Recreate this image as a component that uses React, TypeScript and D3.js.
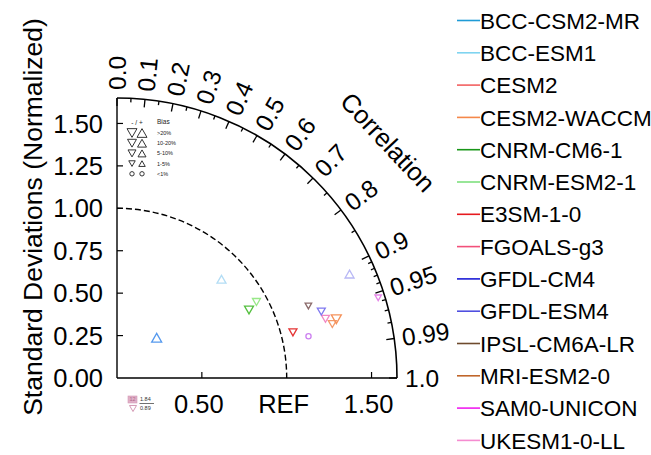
import React from 'react';
import * as d3 from 'd3';

// model list, legend colours and the (lighter) marker colours
const models = ['BCC-CSM2-MR', 'BCC-ESM1', 'CESM2', 'CESM2-WACCM', 'CNRM-CM6-1', 'CNRM-ESM2-1', 'E3SM-1-0',
	'FGOALS-g3', 'GFDL-CM4', 'GFDL-ESM4', 'IPSL-CM6A-LR', 'MRI-ESM2-0', 'SAM0-UNICON', 'UKESM1-0-LL'];
const lineColors = ['#1f9bd6', '#7fd4f0', '#f26060', '#f5884a', '#199619', '#7fe07f', '#e61a1e',
	'#f2507a', '#1c1cd6', '#4f4fe0', '#6e4b2d', '#c0662a', '#f01ff0', '#f58cd0'];
const markerColors = ['#5599ee', '#b3ddf5', '#f49a6a', '#f5925a', '#55c040', '#98e888', '#e53535',
	'#f287c4', '#b8b8f5', '#7f78f0', '#8b6b6b', '#d49ab5', '#cc7ff0', '#e585e8'];

// normalized std dev, correlation, bias (%)
const stdDev = [0.333, 0.847, 1.308, 1.338, 0.875, 0.936, 1.071, 1.277, 1.501, 1.266, 1.205, 1.84, 1.155, 1.610];
const corr = [0.702, 0.727, 0.970, 0.966, 0.889, 0.878, 0.968, 0.962, 0.913, 0.951, 0.936, 0.89, 0.977, 0.956];
const bias = [25, 15, -8, -22, -15, -8, -8, -8, 15, -8, -3, -12, 0.5, -5];

const stdTicks = [0, 0.25, 0.5, 0.75, 1.0, 1.25, 1.5];
const xTicks = [0.5, 1.0, 1.5];
const xTickLabels = ['0.50', 'REF', '1.50'];
const corrMajor = [0, 0.1, 0.2, 0.3, 0.4, 0.5, 0.6, 0.7, 0.8, 0.9, 0.95, 0.99, 1.0];
const corrLabels = ['0.0', '0.1', '0.2', '0.3', '0.4', '0.5', '0.6', '0.7', '0.8', '0.9', '0.95', '0.99', '1.0'];
const corrMinor = [0.05, 0.15, 0.25, 0.35, 0.45, 0.55, 0.65, 0.75, 0.85, 0.91, 0.92, 0.93, 0.94, 0.96, 0.97, 0.98];
const biasLabels = ['>20%', '10-20%', '5-10%', '1-5%', '<1%'];

const W = 651, H = 455;
const ox = 117, oy = 378;
const maxStd = 1.65;
const font = 'Liberation Sans, Arial, Helvetica, sans-serif';

const biasClass = (b) => {
	const a = Math.abs(b);
	if (a > 20) return 0;
	if (a > 10) return 1;
	if (a > 5) return 2;
	if (a > 1) return 3;
	return 4;
};
const triWidths = [10, 9, 8, 6.5];

const tri = (x, y, w, up) => {
	const h = w * 0.87;
	return up
		? `M${x - w / 2},${y + h / 2}L${x + w / 2},${y + h / 2}L${x},${y - h / 2}Z`
		: `M${x - w / 2},${y - h / 2}L${x + w / 2},${y - h / 2}L${x},${y + h / 2}Z`;
};

export default function App() {
	const r = d3.scaleLinear().domain([0, maxStd]).range([0, 280]);
	const R = r(maxStd);
	const pt = (s, c) => {
		const th = Math.acos(c);
		return [ox + r(s) * Math.cos(th), oy - r(s) * Math.sin(th)];
	};

	const outer = d3.path();
	outer.moveTo(ox, oy - R);
	outer.arc(ox, oy, R, -Math.PI / 2, 0);
	const ref = d3.path();
	ref.moveTo(ox, oy - r(1));
	ref.arc(ox, oy, r(1), -Math.PI / 2, 0);

	const radTick = (c, len) => {
		const th = Math.acos(c);
		return <line key={'t' + c} x1={ox + R * Math.cos(th)} y1={oy - R * Math.sin(th)}
			x2={ox + (R - len) * Math.cos(th)} y2={oy - (R - len) * Math.sin(th)} stroke="#000" strokeWidth={1.3} />;
	};

	return (
		<svg width={W} height={H} style={{ position: 'absolute', left: 0, top: 0 }} fontFamily={font}>
			<rect width={W} height={H} fill="#fff" />
			{/* axes */}
			<line x1={ox} y1={oy} x2={ox} y2={oy - R} stroke="#000" strokeWidth={1.4} />
			<line x1={ox} y1={oy} x2={ox + R} y2={oy} stroke="#000" strokeWidth={1.4} />
			<path d={outer.toString()} fill="none" stroke="#000" strokeWidth={1.6} />
			<path d={ref.toString()} fill="none" stroke="#000" strokeWidth={1.4} strokeDasharray="6,3" />

			{stdTicks.map(v => (
				<g key={'y' + v}>
					{v > 0 && <line x1={ox} x2={ox + 6} y1={oy - r(v)} y2={oy - r(v)} stroke="#000" strokeWidth={1.2} />}
					<text x={103} y={oy - r(v)} dy="0.36em" textAnchor="end" fontSize={25.5}>{v.toFixed(2)}</text>
				</g>
			))}
			{xTicks.map((v, i) => (
				<g key={'x' + v}>
					{v !== 1 && <line x1={ox + r(v)} x2={ox + r(v)} y1={oy} y2={oy - 6} stroke="#000" strokeWidth={1.2} />}
					<text x={ox + r(v) - 3} y={413} textAnchor="middle" fontSize={25.5}>{xTickLabels[i]}</text>
				</g>
			))}

			{corrMajor.map(c => radTick(c, 8))}
			{corrMinor.map(c => radTick(c, 4))}
			{corrMajor.map((c, i) => {
				const th = Math.acos(c);
				const x = ox + (R + 8) * Math.cos(th), y = oy - (R + 8) * Math.sin(th);
				return <text key={'cl' + c} x={x} y={y} dy="0.36em" fontSize={24.5}
					transform={`rotate(${-th * 180 / Math.PI},${x},${y})`}>{corrLabels[i]}</text>;
			})}
			<text x={388} y={142} dy="0.36em" textAnchor="middle" fontSize={25.5} transform="rotate(47,388,142)">Correlation</text>
			<text x={42} y={217} textAnchor="middle" fontSize={26.5} transform="rotate(-90,42,217)">Standard Deviations (Normalized)</text>

			{/* bias key */}
			<g fontSize={6.5} fill="#222">
				<text x={137} y={123} dy="0.35em" textAnchor="middle">- / +</text>
				<text x={157} y={122} dy="0.35em">Bias</text>
				{biasLabels.map((b, i) => {
					const y = 133 + i * 10.2;
					return (
						<g key={b}>
							{i < 4 ? <>
								<path d={tri(132, y, triWidths[i], false)} fill="none" stroke="#333" strokeWidth={1} />
								<path d={tri(142, y, triWidths[i], true)} fill="none" stroke="#333" strokeWidth={1} />
							</> : <>
								<circle cx={132} cy={y} r={2.2} fill="none" stroke="#333" strokeWidth={1} />
								<circle cx={142} cy={y} r={2.2} fill="none" stroke="#333" strokeWidth={1} />
							</>}
							<text x={157} y={y} dy="0.35em" fontSize={5.5}>{b}</text>
						</g>
					);
				})}
			</g>

			{/* model markers */}
			{models.map((m, i) => {
				if (stdDev[i] > maxStd) return null;
				const [x, y] = pt(stdDev[i], corr[i]);
				const k = biasClass(bias[i]);
				return k === 4
					? <circle key={m} cx={x} cy={y} r={2.6} fill="none" stroke={markerColors[i]} strokeWidth={1.3} />
					: <path key={m} d={tri(x, y, triWidths[k], bias[i] > 0)} fill="none" stroke={markerColors[i]} strokeWidth={1.3} />;
			})}

			{/* out-of-range model */}
			{models.map((m, i) => {
				if (stdDev[i] <= maxStd) return null;
				return (
					<g key={'o' + m} fontSize={5.5}>
						<rect x={128} y={396} width={9} height={7} fill="#e0b0c8" stroke={markerColors[i]} strokeWidth={0.6} />
						<text x={132.5} y={399.5} dy="0.35em" textAnchor="middle" fill="#b06a8a">{i + 1}</text>
						<path d={tri(133, 408.5, 7, bias[i] > 0)} fill="none" stroke={markerColors[i]} strokeWidth={1} />
						<text x={140} y={399} dy="0.35em" fill="#333">{stdDev[i].toFixed(2)}</text>
						<line x1={139.5} x2={154} y1={403.5} y2={403.5} stroke="#333" strokeWidth={0.7} />
						<text x={140} y={408.5} dy="0.35em" fill="#333">{corr[i].toFixed(2)}</text>
					</g>
				);
			})}

			{/* legend */}
			{models.map((m, i) => {
				const y = 20.5 + i * 32.3;
				return (
					<g key={'l' + m}>
						<line x1={457} x2={480} y1={y} y2={y} stroke={lineColors[i]} strokeWidth={1.6} />
						<text x={480} y={y} dy="0.36em" fontSize={22.5}>{m}</text>
					</g>
				);
			})}
		</svg>
	);
}
